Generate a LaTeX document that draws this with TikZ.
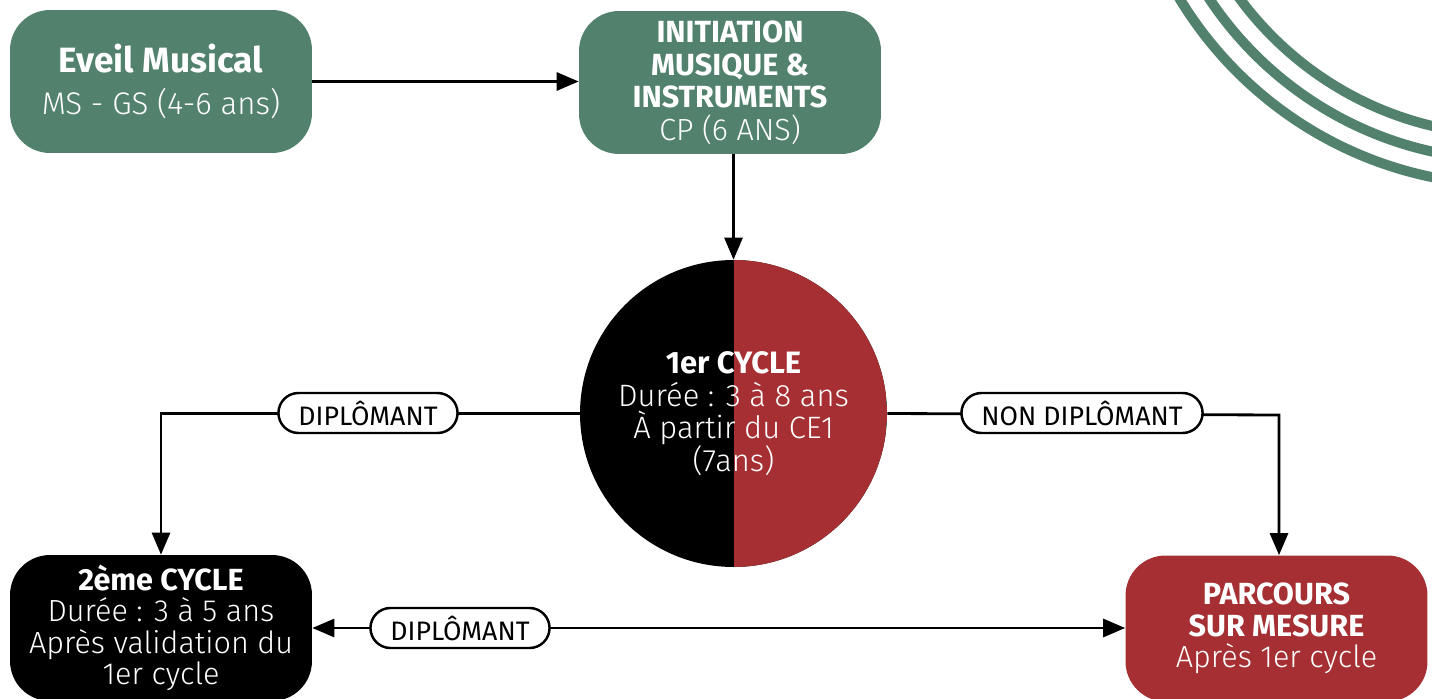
\documentclass[tikz,border=0pt]{standalone}
\usepackage{fontspec}
\setmainfont{Fira Sans}
\newfontfamily\lightfont{Fira Sans Light}
\usetikzlibrary{arrows.meta}
\definecolor{vert}{HTML}{52826E}
\definecolor{rouge}{HTML}{A52F32}

\tikzset{
  box/.style={rounded corners=0.8cm, minimum width=6.04cm, minimum height=2.86cm,
    align=center, text=white, font=\fontsize{17.4}{17.9}\selectfont},
  pill/.style={draw=black, line width=1.4pt, fill=white, rounded corners=0.4cm,
    minimum height=0.8cm, inner xsep=0.4cm, font=\fontsize{15.2}{16}\selectfont},
  link/.style={line width=1.6pt, -{Triangle[width=0.36cm,length=0.44cm]}},
  ring/.style={vert, line width=0.2cm}
}

\begin{document}
\begin{tikzpicture}[x=0.02cm,y=-0.02cm]
\useasboundingbox (0,0) rectangle (1432,699);

\begin{scope}
\clip (0,0) rectangle (1432,699);
\draw[ring] (1510,-201) circle (386);
\draw[ring] (1510,-201) circle (361);
\draw[ring] (1510,-201) circle (336);

\node[box, fill=vert, font=\fontsize{17.8}{24}\selectfont] (eveil) at (161,81.5) {{\fontsize{20}{24}\selectfont\textbf{Eveil Musical}}\\{\lightfont MS - GS (4-6 ans)}};
\node[box, fill=vert, font=\fontsize{17.4}{18.5}\selectfont] (init) at (730,82.5) {\textbf{INITIATION}\\\textbf{MUSIQUE \&}\\\textbf{INSTRUMENTS}\\{\lightfont CP (6 ANS)}};

\node[circle, minimum size=6.14cm, fill=black, text=white, align=center,
  font=\fontsize{17.6}{18.5}\selectfont,
  path picture={\fill[rouge] (path picture bounding box.north) rectangle (path picture bounding box.south east);}]
  (cyc) at (733.5,413.5) {\textbf{1er CYCLE}\\{\lightfont Durée : 3 à 8 ans}\\{\lightfont À partir du CE1}\\{\lightfont (7ans)}};

\node[box, fill=black, minimum height=2.92cm] (deux) at (161,628) {\textbf{2ème CYCLE}\\{\lightfont Durée : 3 à 5 ans}\\{\lightfont Après validation du}\\{\lightfont 1er cycle}};
\node[box, fill=rouge, minimum height=2.92cm] (parc) at (1276.5,628.5) {\textbf{PARCOURS}\\\textbf{SUR MESURE}\\{\lightfont Après 1er cycle}};
\end{scope}

\coordinate (turnR) at (1279,415);

\draw[link] (eveil.east) -- (eveil.east -| init.west);
\draw[link] (cyc.north |- init.south) -- (cyc.north);
\draw[link] (cyc.west) -| (deux.north);
\draw[link] (cyc.east) -- (turnR) -- (turnR |- parc.north);
\draw[link, {Triangle[width=0.36cm,length=0.44cm]}-{Triangle[width=0.36cm,length=0.44cm]}] (deux.east) -- (deux.east -| parc.west);

\node[pill] (dipA) at (368,413) {DIPLÔMANT};
\node[pill] (nondip) at (1082,413) {NON DIPLÔMANT};
\node[pill] (dipB) at (460,628) {DIPLÔMANT};
\end{tikzpicture}
\end{document}
